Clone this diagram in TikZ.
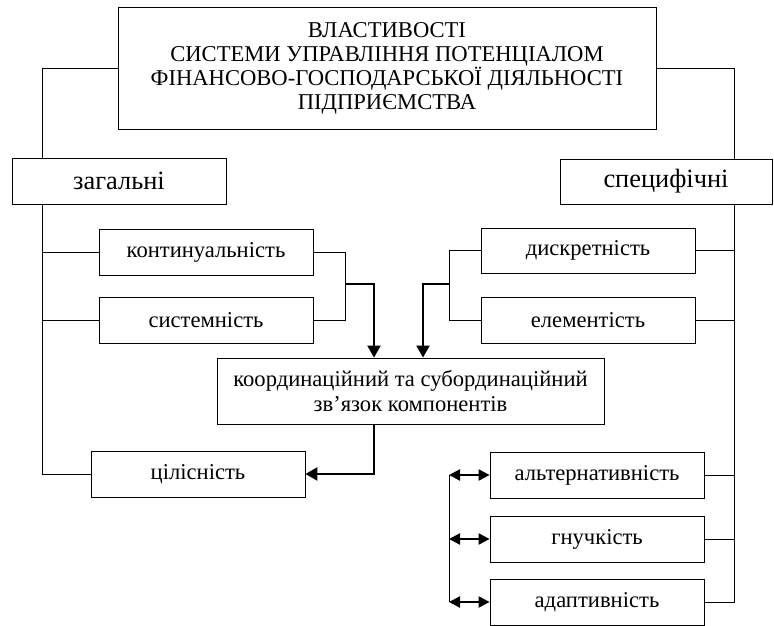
\documentclass[tikz,border=0pt]{standalone}
\usepackage{fontspec}
\setmainfont{Liberation Serif}
\usetikzlibrary{arrows.meta}
\begin{document}
\begin{tikzpicture}[x=1pt,y=-1pt,
  box/.style={draw,line width=0.8pt,inner sep=0pt,font=\fontsize{22.6}{25}\selectfont},
  bigbox/.style={box,font=\fontsize{26.4}{28}\selectfont},
  ln/.style={line width=0.9pt},
  arr/.style={line width=2.2pt,-{Triangle[length=12pt,width=13pt]}},
  darr/.style={line width=2.2pt,{Triangle[length=11pt,width=11pt]}-{Triangle[length=11pt,width=11pt]}}]
\useasboundingbox (0,0) rectangle (774,626);
\clip (0,0) rectangle (774,626);
\node[box,minimum width=538pt,minimum height=122pt,align=center,font=\fontsize{22.6}{24}\selectfont] (title) at (387,68)
  {ВЛАСТИВОСТІ\\СИСТЕМИ УПРАВЛІННЯ ПОТЕНЦІАЛОМ\\ФІНАНСОВО-ГОСПОДАРСЬКОЇ ДІЯЛЬНОСТІ\\ПІДПРИЄМСТВА};
\node[bigbox,minimum width=214pt,minimum height=46pt] (zag) at (119,181) {загальні};
\node[bigbox,minimum width=212pt,minimum height=45pt] (spec) at (666,181.5) {специфічні};
\node[box,minimum width=214pt,minimum height=46pt] (kont) at (206,252) {континуальність};
\node[box,minimum width=214pt,minimum height=46pt] (sys) at (206,320) {системність};
\node[box,minimum width=387pt,minimum height=66pt,align=center] (koord) at (410.5,391)
  {координаційний та субординаційний\\зв’язок компонентів};
\node[box,minimum width=214pt,minimum height=46pt] (cil) at (198,474) {цілісність};
\node[box,minimum width=214pt,minimum height=45pt] (dysk) at (588,250.5) {дискретність};
\node[box,minimum width=214pt,minimum height=46pt] (elem) at (588,320) {елементість};
\node[box,minimum width=214pt,minimum height=46pt] (alt) at (597,475) {альтернативність};
\node[box,minimum width=214pt,minimum height=46pt] (hnu) at (597,539) {гнучкість};
\node[box,minimum width=214pt,minimum height=46pt] (adap) at (597,602) {адаптивність};
% spines
\coordinate (L) at (42,0);
\coordinate (R) at (734,0);
\coordinate (BL) at (345,0);
\coordinate (BR) at (449,0);
\coordinate (AL) at (374,0);
\coordinate (AR) at (423,0);
\coordinate (JL) at (345,284);
\coordinate (JR) at (449,284);
% left
\draw[ln] (title.west) -| (zag.north -| L);
\draw[ln] (zag.south -| L) |- (cil.west);
\draw[ln] (kont.west) -- (kont.west -| L);
\draw[ln] (sys.west) -- (sys.west -| L);
% right
\draw[ln] (title.east) -| (spec.north -| R);
\draw[ln] (spec.south -| R) |- (adap.east);
\draw[ln] (dysk.east) -- (dysk.east -| R);
\draw[ln] (elem.east) -- (elem.east -| R);
\draw[ln] (alt.east) -- (alt.east -| R);
\draw[ln] (hnu.east) -- (hnu.east -| R);
% brackets
\draw[ln] (kont.east) -| (sys.east -| BL) -- (sys.east);
\draw[ln] (dysk.west) -| (elem.west -| BR) -- (elem.west);
\draw[arr] (JL) -| (koord.north -| AL);
\draw[arr] (JR) -| (koord.north -| AR);
\draw[arr] (koord.south -| AL) |- (cil.east);
% double arrows
\draw[ln] (alt.west -| BR) -- (adap.west -| BR);
\draw[darr] (alt.west -| BR) -- (alt.west);
\draw[darr] (hnu.west -| BR) -- (hnu.west);
\draw[darr] (adap.west -| BR) -- (adap.west);
\end{tikzpicture}
\end{document}
